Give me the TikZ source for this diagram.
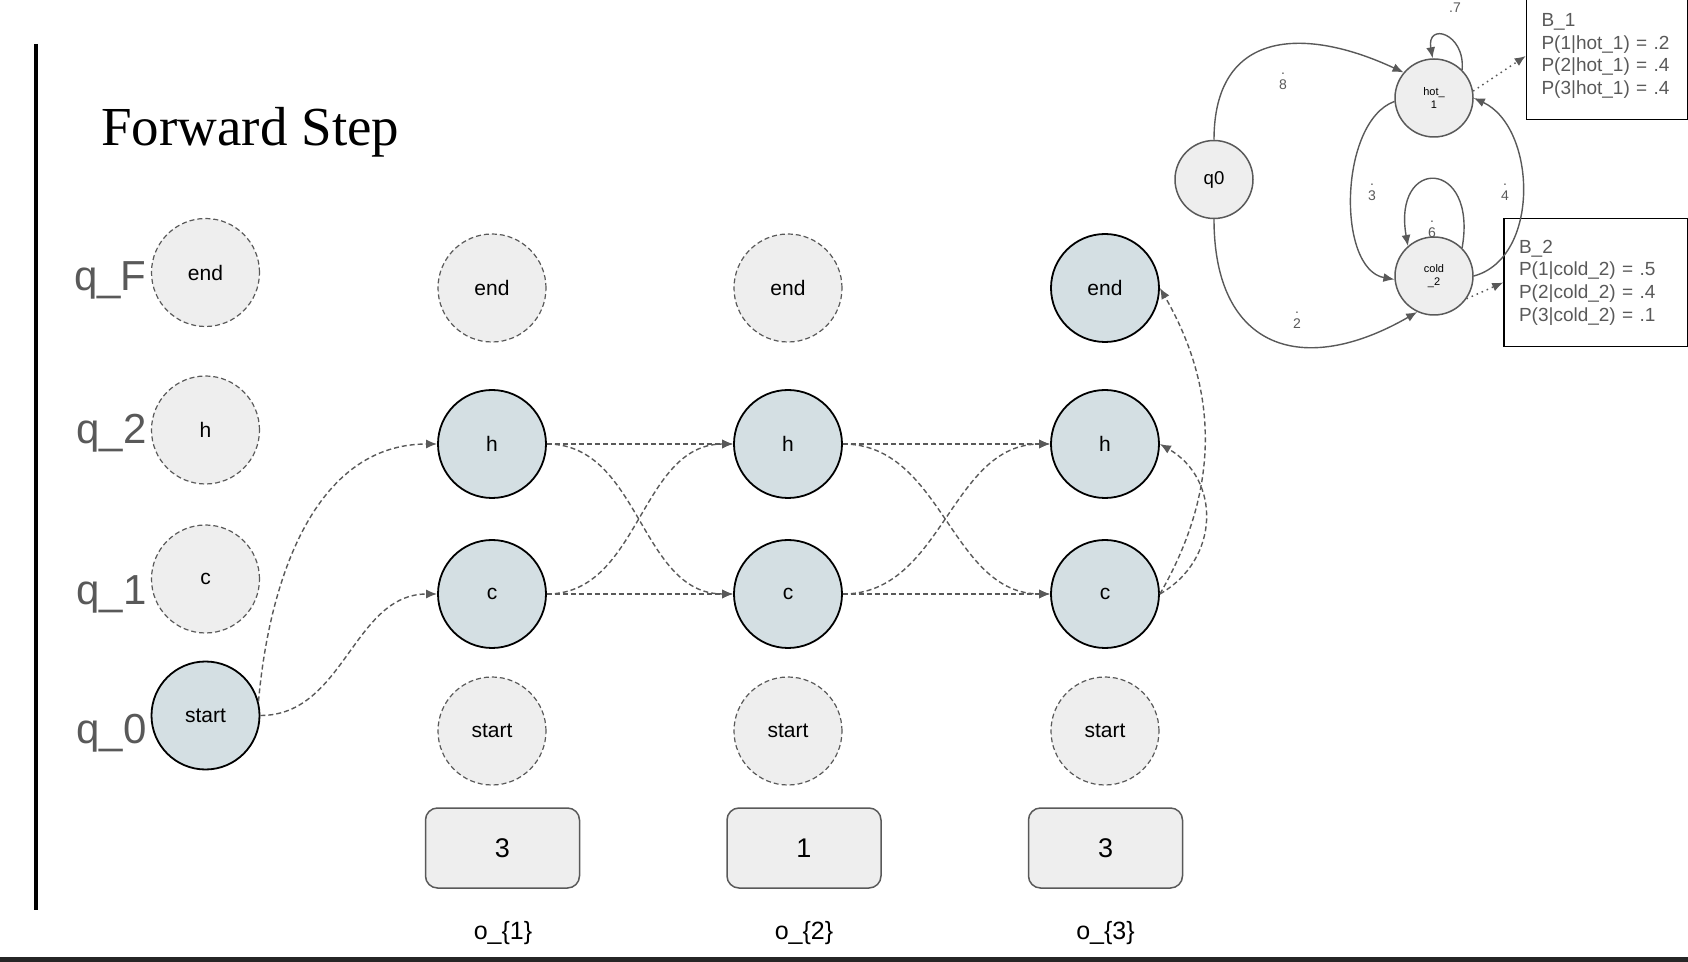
\documentclass[tikz,border=0pt]{standalone}
\usepackage{fontspec}
\setmainfont{Liberation Sans}
\newfontfamily\titlefont{Liberation Serif}
\usetikzlibrary{arrows.meta,shapes}
\definecolor{linegray}{HTML}{595959}
\definecolor{paleshade}{HTML}{EEEEEE}
\definecolor{visited}{HTML}{D4DFE3}
\tikzstyle{idle}=[circle,draw=linegray,dash pattern=on 2.5pt off 1.5pt,fill=paleshade,line width=0.6pt,minimum size=54pt,inner sep=0pt,font=\fontsize{10.5}{12}\selectfont]
\tikzstyle{live}=[circle,draw=black,fill=visited,line width=0.9pt,minimum size=54pt,inner sep=0pt,font=\fontsize{10.5}{12}\selectfont]
\tikzstyle{obsbox}=[rectangle,rounded corners=6pt,draw=linegray,fill=paleshade,line width=0.75pt,minimum width=77pt,minimum height=40pt,font=\fontsize{13.5}{15}\selectfont]
\tikzstyle{obslabel}=[font=\fontsize{12.5}{14}\selectfont]
\tikzstyle{rowname}=[anchor=base east,inner sep=0pt,text=linegray,font=\fontsize{21}{24}\selectfont]
\tikzstyle{fwd}=[->,dash pattern=on 2.5pt off 1.5pt,draw=linegray,line width=0.7pt]
\tikzstyle{hmmstate}=[circle,draw=linegray,fill=paleshade,line width=0.75pt,minimum size=39pt,inner sep=0pt,align=center,font=\fontsize{5.5}{6.5}\selectfont]
\tikzstyle{hmmedge}=[->,draw=linegray,line width=0.7pt]
\tikzstyle{prob}=[text=linegray,align=center,inner sep=0pt,font=\fontsize{7}{7.5}\selectfont]
\tikzstyle{emit}=[rectangle,draw=black,line width=0.75pt,align=left,inner xsep=7.5pt,text=linegray,font=\fontsize{9.5}{11.3}\selectfont]

\begin{document}
\begin{tikzpicture}[x=0.5pt,y=0.5pt,>={Latex[length=5.5pt,width=4.5pt]}]
\useasboundingbox (0,0) rectangle (1688,-962);
\fill[black!85] (0,-957) rectangle (1688,-962);
\draw[line width=2pt] (36,-44) -- (36,-910);
\node[anchor=base west,inner sep=0pt,font=\titlefont\fontsize{27.5}{30}\selectfont] (title) at (101,-146) {Forward Step};

% state labels
\node[rowname] (qF) at (147,-291) {q\_F};
\node[rowname] (q2) at (147,-444) {q\_2};
\node[rowname] (q1) at (147,-604) {q\_1};
\node[rowname] (q0lab) at (147,-743) {q\_0};

% time 0
\node[idle] (e0) at (205.5,-272.5) {end};
\node[idle] (h0) at (205.5,-430) {h};
\node[idle] (c0) at (205.5,-579) {c};
\node[live] (s0) at (205.5,-715.5) {start};

% time 1
\node[idle] (e1) at (492,-288) {end};
\node[live] (h1) at (492,-444) {h};
\node[live] (c1) at (492,-594) {c};
\node[idle] (s1) at (492,-731) {start};
\node[obsbox] (b1) at (502.5,-848) {3};
\node[obslabel] (o1) at (503,-933) {o\_\{1\}};

% time 2
\node[idle] (e2) at (788,-288) {end};
\node[live] (h2) at (788,-444) {h};
\node[live] (c2) at (788,-594) {c};
\node[idle] (s2) at (788,-731) {start};
\node[obsbox] (b2) at (804,-848) {1};
\node[obslabel] (o2) at (804,-933) {o\_\{2\}};

% time 3
\node[live] (e3) at (1105,-288) {end};
\node[live] (h3) at (1105,-444) {h};
\node[live] (c3) at (1105,-594) {c};
\node[idle] (s3) at (1105,-731) {start};
\node[obsbox] (b3) at (1105.5,-848) {3};
\node[obslabel] (o3) at (1105.5,-933) {o\_\{3\}};

\draw[fwd] (s0.15) to[out=85,in=180] (h1.west);
\draw[fwd] (s0.east) to[out=0,in=180] (c1.west);
\draw[fwd] (h1) -- (h2);
\draw[fwd] (h1.east) to[out=0,in=180] (c2.west);
\draw[fwd] (c1.east) to[out=0,in=180] (h2.west);
\draw[fwd] (c1) -- (c2);
\draw[fwd] (h2) -- (h3);
\draw[fwd] (h2.east) to[out=0,in=180] (c3.west);
\draw[fwd] (c2.east) to[out=0,in=180] (h3.west);
\draw[fwd] (c2) -- (c3);
\draw[fwd] (c3.east) to[out=30,in=-30,looseness=1.2] (h3.east);
\draw[fwd] (c3.east) to[out=60,in=-60] (e3.east);

% the hmm
\node[hmmstate,minimum size=39pt,font=\fontsize{9.3}{11}\selectfont] (q0) at (1214,-179.5) {q0};
\node[hmmstate] (hot) at (1434,-98) {hot\_\\1};
\node[hmmstate] (cold) at (1434,-276) {cold\\\_2};
\node[emit,text width=65.5pt,minimum height=63.5pt] (B1) at (1607,-56) {B\_1\\P(1|hot\_1) = .2\\P(2|hot\_1) = .4\\P(3|hot\_1) = .4};
\node[emit,text width=77pt,minimum height=64pt] (B2) at (1596,-282.5) {B\_2\\P(1|cold\_2) = .5\\P(2|cold\_2) = .4\\P(3|cold\_2) = .1};

\draw[hmmedge] (q0.north) to[out=90,in=155,looseness=1.4] (hot.140);
\draw[hmmedge] (q0.south) to[out=-90,in=-150,looseness=1.5] (cold.245);
\draw[hmmedge] (hot.185) to[out=200,in=170,looseness=0.85] (cold.185);
\draw[hmmedge] (cold.east) to[out=15,in=-25] (hot.east);
\draw[hmmedge] (hot.45) to[out=85,in=100,looseness=3] (hot.92);
\draw[hmmedge] (cold.45) to[out=80,in=100,looseness=4.3] (cold.131);
\draw[->,dotted,draw=linegray,line width=0.75pt] (hot.10) -- (B1.west);
\draw[->,dotted,draw=linegray,line width=0.75pt] (cold.-35) -- (B2.west);

\node[prob] (p8) at (1283,-81) {.\\8};
\node[prob] (p2) at (1297,-320) {.\\2};
\node[prob] (p3) at (1372,-192) {.\\3};
\node[prob] (p4) at (1505,-192) {.\\4};
\node[prob] (p6) at (1432,-229) {.\\6};
\node[prob] (p7) at (1455,-8) {.7};
\end{tikzpicture}
\end{document}
